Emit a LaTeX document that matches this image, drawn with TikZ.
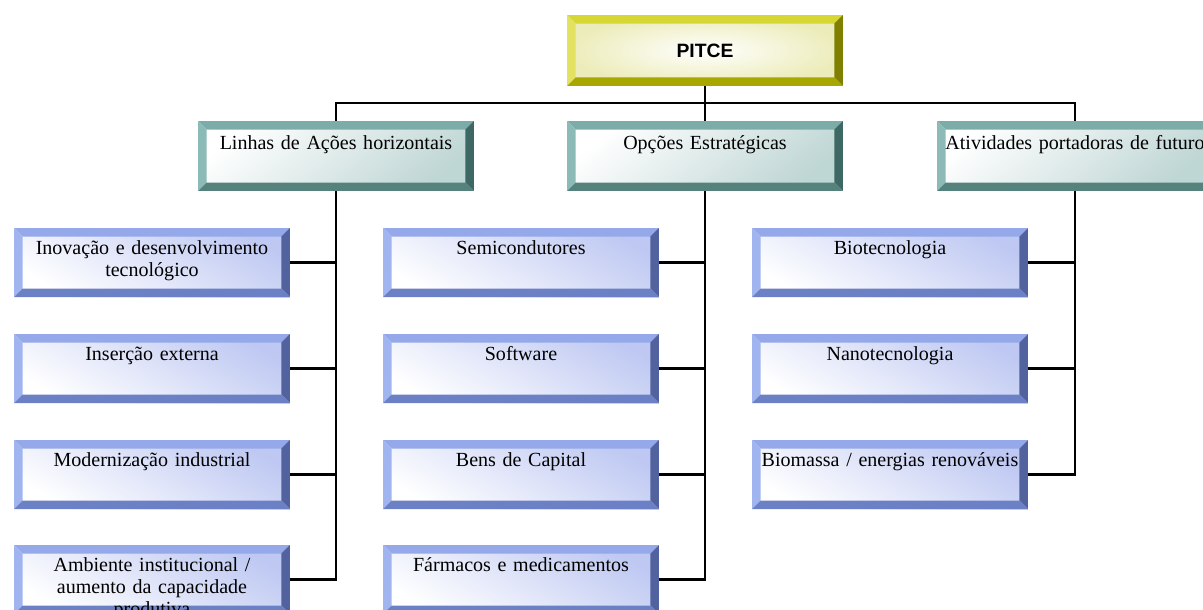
\documentclass[tikz,border=0pt]{standalone}
\usepackage{fontspec}
\setmainfont{Liberation Serif}
\setsansfont{Liberation Sans}
\usepackage{tikz}
\usetikzlibrary{positioning,calc}
\usepackage{xcolor}

\definecolor{ytop}{RGB}{214,214,52}
\definecolor{yleft}{RGB}{226,226,96}
\definecolor{yright}{RGB}{128,128,0}
\definecolor{ybot}{RGB}{168,166,0}
\definecolor{yface}{RGB}{236,236,186}
\definecolor{ttop}{RGB}{124,172,168}
\definecolor{tleft}{RGB}{140,186,182}
\definecolor{tright}{RGB}{62,104,100}
\definecolor{tbot}{RGB}{86,130,126}
\definecolor{tface}{RGB}{190,214,212}
\definecolor{btop}{RGB}{148,168,234}
\definecolor{bleft}{RGB}{160,180,240}
\definecolor{bright}{RGB}{82,98,158}
\definecolor{bbot}{RGB}{108,128,198}
\definecolor{bface}{RGB}{190,200,242}

\begin{document}
\begin{tikzpicture}[x=0.02cm, y=-0.02cm,
    bevel/.style n args={4}{path picture={
        \path (path picture bounding box.north west) coordinate (o1)
              (path picture bounding box.north east) coordinate (o2)
              (path picture bounding box.south east) coordinate (o3)
              (path picture bounding box.south west) coordinate (o4)
              ([shift={(0.17cm,-0.17cm)}]path picture bounding box.north west) coordinate (i1)
              ([shift={(-0.17cm,-0.17cm)}]path picture bounding box.north east) coordinate (i2)
              ([shift={(-0.17cm,0.17cm)}]path picture bounding box.south east) coordinate (i3)
              ([shift={(0.17cm,0.17cm)}]path picture bounding box.south west) coordinate (i4);
        \fill[#1] (o1) -- (o2) -- (i2) -- (i1) -- cycle;
        \fill[#2] (o1) -- (i1) -- (i4) -- (o4) -- cycle;
        \fill[#3] (o2) -- (o3) -- (i3) -- (i2) -- cycle;
        \fill[#4] (o4) -- (i4) -- (i3) -- (o3) -- cycle;
    }},
    topbox/.style={shade, inner color=white, outer color=yface, bevel={ytop}{yleft}{yright}{ybot},
        minimum width=5.52cm, minimum height=1.42cm, inner sep=0pt,
        font=\sffamily\bfseries\fontsize{11}{13}\selectfont},
    txtbox/.style={text width=5.2cm, align=center, inner xsep=0.16cm, inner ysep=0pt,
        minimum width=5.52cm, font=\fontsize{11.4}{12.4}\selectfont},
    eixobox/.style={txtbox, shade, top color=white, bottom color=tface, shading angle=40,
        bevel={ttop}{tleft}{tright}{tbot}, text height=0.56cm, text depth=0.84cm},
    itembox/.style={txtbox, shade, top color=bface, bottom color=white, shading angle=-30,
        bevel={btop}{bleft}{bright}{bbot}, text height=0.53cm, text depth=0.85cm},
    conn/.style={line width=1.3pt}]
    \useasboundingbox (0,0) rectangle (1203,609);
    \clip (0,0) rectangle (1203,609);

    \node[topbox] (pitce) at (705,50.5) {PITCE};

    \node[eixobox] (linhas) at (336,156) {Linhas de Ações horizontais};
    \node[eixobox] (opcoes) at (705,156) {Opções Estratégicas};
    \node[eixobox] (ativ) at (1075,156) {Atividades portadoras de futuro};

    \node[itembox] (inov) at (152,262.5) {Inovação e desenvolvimento\\tecnológico};
    \node[itembox] (inser) at (152,368.5) {Inserção externa};
    \node[itembox] (moder) at (152,474.5) {Modernização industrial};
    \node[itembox] (amb) at (152,579.5) {Ambiente institucional /\\aumento da capacidade\\produtiva};

    \node[itembox] (semi) at (521,262.5) {Semicondutores};
    \node[itembox] (soft) at (521,368.5) {Software};
    \node[itembox] (bens) at (521,474.5) {Bens de Capital};
    \node[itembox] (farm) at (521,579.5) {Fármacos e medicamentos};

    \node[itembox] (biot) at (890,262.5) {Biotecnologia};
    \node[itembox] (nano) at (890,368.5) {Nanotecnologia};
    \node[itembox] (biom) at (890,474.5) {Biomassa / energias renováveis};

    \coordinate (bus) at (705,103);
    \draw[conn] (pitce.south) -- (opcoes.north);
    \draw[conn] (linhas.north) |- (bus) -| (ativ.north);

    \draw[conn] (linhas.south) |- (inov.east);
    \draw[conn] (linhas.south) |- (inser.east);
    \draw[conn] (linhas.south) |- (moder.east);
    \draw[conn] (linhas.south) |- (amb.east);
    \draw[conn] (opcoes.south) |- (semi.east);
    \draw[conn] (opcoes.south) |- (soft.east);
    \draw[conn] (opcoes.south) |- (bens.east);
    \draw[conn] (opcoes.south) |- (farm.east);
    \draw[conn] (ativ.south) |- (biot.east);
    \draw[conn] (ativ.south) |- (nano.east);
    \draw[conn] (ativ.south) |- (biom.east);
\end{tikzpicture}
\end{document}
